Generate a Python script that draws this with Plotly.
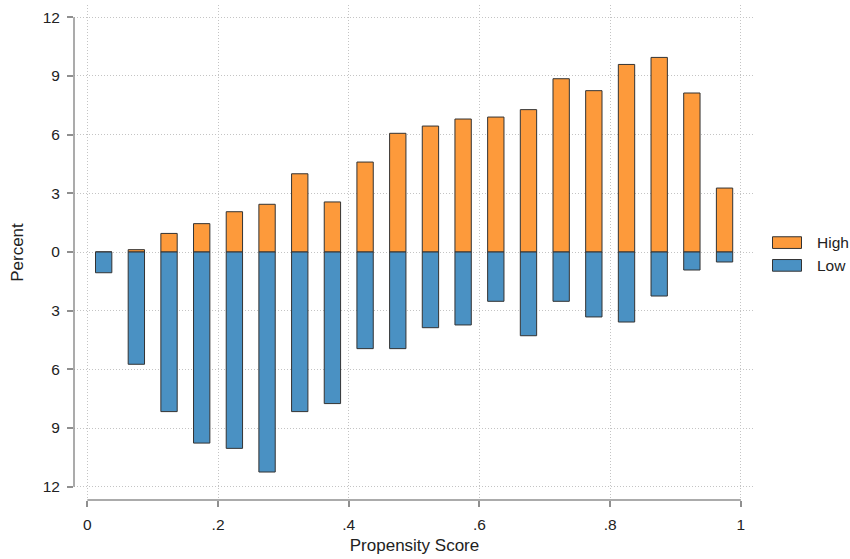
import plotly.graph_objects as go

# Data
bin_centers = [0.025, 0.075, 0.125, 0.175, 0.225, 0.275, 0.325, 0.375, 0.425, 0.475,
               0.525, 0.575, 0.625, 0.675, 0.725, 0.775, 0.825, 0.875, 0.925, 0.975]
high_pct = [0.0, 0.12, 0.95, 1.45, 2.06, 2.44, 4.0, 2.56, 4.6, 6.07,
            6.44, 6.80, 6.90, 7.28, 8.86, 8.25, 9.59, 9.95, 8.13, 3.27]
low_pct = [1.06, 5.74, 8.16, 9.77, 10.04, 11.25, 8.16, 7.75, 4.94, 4.94,
           3.87, 3.73, 2.52, 4.28, 2.52, 3.32, 3.58, 2.25, 0.92, 0.51]
series_names = ["High", "Low"]
y_tick_vals = [12, 9, 6, 3, 0, -3, -6, -9, -12]
y_tick_text = ["12", "9", "6", "3", "0", "3", "6", "9", "12"]
x_tick_vals = [0, 0.2, 0.4, 0.6, 0.8, 1.0]
x_tick_text = ["0", ".2", ".4", ".6", ".8", "1"]

ORANGE = "#FD9A3B"
BLUE = "#4A91C3"
EDGE = "#333333"
AXIS = "#8f8f8f"
GRID = "#c4c4c4"
TXT = "#222222"
FONT = "Liberation Sans, Arial, sans-serif"

fig = go.Figure()
fig.add_trace(go.Bar(
    x=bin_centers, y=high_pct, width=0.025, name=series_names[0],
    marker=dict(color=ORANGE, line=dict(color=EDGE, width=1)),
    showlegend=False,
))
fig.add_trace(go.Bar(
    x=bin_centers, y=[-v for v in low_pct], width=0.025, name=series_names[1],
    marker=dict(color=BLUE, line=dict(color=EDGE, width=1)),
    customdata=low_pct, hovertemplate="%{x}: %{customdata}<extra>Low</extra>",
    showlegend=False,
))

fig.update_layout(
    width=850, height=559,
    margin=dict(l=74, r=95, t=5, b=59),
    paper_bgcolor="white", plot_bgcolor="white",
    barmode="overlay",
    font=dict(family=FONT, size=15, color=TXT),
    showlegend=False,
)

fig.update_xaxes(
    range=[-0.0204, 1.0216],
    tickvals=x_tick_vals, ticktext=x_tick_text,
    showgrid=True, gridcolor=GRID, griddash="1px,2px", gridwidth=1,
    zeroline=False, showline=False,
    ticks="outside", ticklen=6, tickwidth=1.5, tickcolor=AXIS,
    ticklabelstandoff=4,
    tickfont=dict(size=15.5, family=FONT, color=TXT),
    title=dict(text="Propensity Score", font=dict(size=17, family=FONT, color=TXT), standoff=7),
)
fig.update_yaxes(
    range=[-12.68, 12.63],
    tickvals=y_tick_vals, ticktext=y_tick_text,
    showgrid=True, gridcolor=GRID, griddash="1px,2px", gridwidth=1,
    zeroline=False, showline=False,
    ticks="outside", ticklen=6, tickwidth=1.5, tickcolor=AXIS,
    ticklabelstandoff=4,
    tickfont=dict(size=15.5, family=FONT, color=TXT),
    title=dict(text="Percent", font=dict(size=17, family=FONT, color=TXT), standoff=14),
)

# Axis lines spanning only the tick range (Stata style)
fig.add_shape(type="line", xref="paper", yref="y", x0=0, x1=0, y0=-12, y1=12,
              line=dict(color=AXIS, width=1.5), layer="above")
fig.add_shape(type="line", xref="x", yref="paper", x0=0, x1=1, y0=0, y1=0,
              line=dict(color=AXIS, width=1.5), layer="above")

# Custom legend with wide rectangular keys
legend_items = [(series_names[0], ORANGE, 0.52), (series_names[1], BLUE, 0.474)]
for name, color, yc in legend_items:
    fig.add_shape(type="rect", xref="paper", yref="paper",
                  x0=1.0257, x1=1.0683, y0=yc - 0.0118, y1=yc + 0.0118,
                  fillcolor=color, line=dict(color=EDGE, width=1))
    fig.add_annotation(xref="paper", yref="paper", x=1.0885, y=yc,
                       text=name, showarrow=False, xanchor="left", yanchor="middle",
                       font=dict(size=15.5, family=FONT, color=TXT))

fig.write_html("out.html")
